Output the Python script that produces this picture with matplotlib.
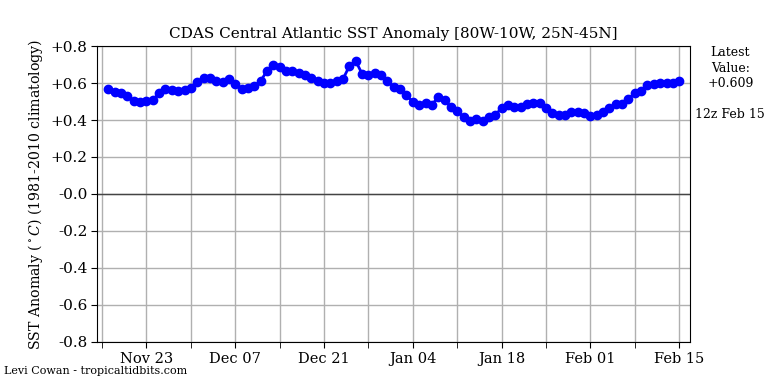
import matplotlib
matplotlib.use("Agg")
import matplotlib.pyplot as plt
import matplotlib.dates as mdates
import numpy as np
import datetime as dt

start_date = "2023-11-17"
values = [0.568, 0.551, 0.546, 0.530, 0.503, 0.497, 0.503, 0.508, 0.546, 0.568,
          0.562, 0.557, 0.562, 0.573, 0.605, 0.627, 0.627, 0.611, 0.605, 0.622,
          0.595, 0.568, 0.573, 0.584, 0.611, 0.665, 0.697, 0.686, 0.665, 0.665,
          0.654, 0.643, 0.627, 0.611, 0.600, 0.600, 0.611, 0.622, 0.692, 0.719,
          0.649, 0.643, 0.654, 0.643, 0.611, 0.578, 0.568, 0.535, 0.497, 0.481,
          0.492, 0.481, 0.525, 0.508, 0.470, 0.449, 0.416, 0.395, 0.405, 0.395,
          0.416, 0.427, 0.465, 0.481, 0.470, 0.470, 0.486, 0.492, 0.492, 0.465,
          0.438, 0.427, 0.427, 0.443, 0.443, 0.438, 0.422, 0.427, 0.443, 0.465,
          0.486, 0.486, 0.514, 0.546, 0.557, 0.589, 0.595, 0.600, 0.600, 0.600,
          0.609]
yticks = [-0.8, -0.6, -0.4, -0.2, 0.0, 0.2, 0.4, 0.6, 0.8]
ytick_labels = ["-0.8", "-0.6", "-0.4", "-0.2", "-0.0", "+0.2", "+0.4", "+0.6", "+0.8"]
title = "CDAS Central Atlantic SST Anomaly [80W-10W, 25N-45N]"
ylabel = "SST Anomaly ($^\\circ C$) (1981-2010 climatology)"
latest_text = "Latest\nValue:\n+0.609\n\n12z Feb 15"
credit = "Levi Cowan - tropicaltidbits.com"

plt.rcParams['font.family'] = ['DejaVu Serif']
plt.rcParams['mathtext.fontset'] = 'dejavuserif'

d0 = dt.datetime.strptime(start_date, "%Y-%m-%d")
dates = [d0 + dt.timedelta(days=i) for i in range(len(values))]

fig = plt.figure(figsize=(7.68, 3.84), dpi=100)
ax = fig.add_axes([0.1263, 0.1094, 0.7721, 0.7708])

ax.plot(dates, values, color='blue', lw=2, marker='o', ms=6, zorder=3)
ax.axhline(0, color='#444444', lw=1, zorder=2)

ax.set_ylim(-0.8, 0.8)
ax.set_yticks(yticks)
ax.set_yticklabels(ytick_labels, fontsize=11)

xmin = d0 - dt.timedelta(days=1.8)
xmax = dates[-1] + dt.timedelta(days=1.7)
ax.set_xlim(xmin, xmax)
major = [dt.datetime(2023, 11, 23) + dt.timedelta(days=14 * i) for i in range(7)]
minor = [dt.datetime(2023, 11, 16) + dt.timedelta(days=14 * i) for i in range(7)]
ax.set_xticks(major)
ax.set_xticklabels([d.strftime("%b %d") for d in major], fontsize=10.5)
ax.set_xticks(minor, minor=True)
ax.tick_params(axis='both', which='both', length=4, pad=3)
ax.grid(True, which='both', color='#b0b0b0', lw=1, zorder=0)
ax.set_axisbelow(True)

ax.set_title(title, fontsize=11)
ax.set_ylabel(ylabel, fontsize=10.2, labelpad=4)

fig.text(0.951, 0.88, latest_text, ha='center', va='top', fontsize=9, linespacing=1.25)
fig.text(0.005, 0.022, credit, ha='left', va='bottom', fontsize=8)

fig.savefig("out.png", dpi=100)
